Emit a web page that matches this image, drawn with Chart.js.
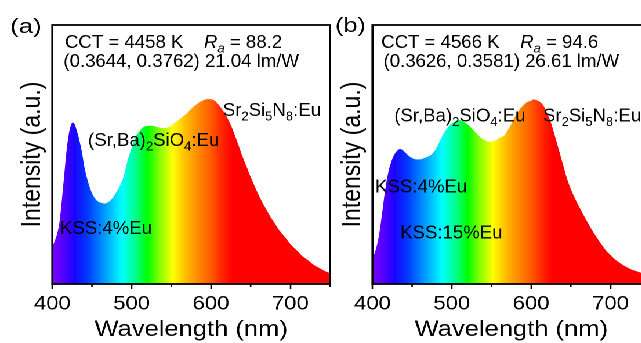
<!DOCTYPE html>
<html><head><meta charset="utf-8">
<script src="https://cdn.jsdelivr.net/npm/chart.js@4.4.0/dist/chart.umd.min.js"></script>
<style>
html,body{margin:0;padding:0;background:#fff;overflow:hidden;width:641px;height:343px;}
#wrap{position:absolute;left:0;top:0;width:600px;height:343px;transform:scaleX(1.16);transform-origin:0 0;}
canvas{position:absolute;top:0;}
#ca{left:0px}
#cb{left:275.9px}
</style></head><body>
<div id="wrap"><canvas id="ca" width="300" height="343"></canvas><canvas id="cb" width="300" height="343"></canvas></div>
<script>
// ---------- data ----------
const wavelengthA = [400,403,406,409,412,415,418,421,424,426,428,431,434,437,441,445,450,455,460,466,471,476,480,485,490,495,500,505,510,515,520,525,530,535,540,545,550,555,560,565,570,575,580,585,590,595,598,601,605,610,615,620,625,630,635,640,645,650,655,660,665,670,675,680,685,690,695,700,705,710,715,720,725,730,735,740,745,750];
const intensityA  = [0.143,0.166,0.193,0.239,0.324,0.421,0.517,0.583,0.618,0.623,0.618,0.591,0.556,0.514,0.444,0.395,0.351,0.326,0.315,0.311,0.317,0.332,0.351,0.378,0.417,0.479,0.525,0.568,0.591,0.606,0.610,0.611,0.608,0.604,0.602,0.604,0.612,0.624,0.635,0.647,0.660,0.676,0.689,0.701,0.709,0.714,0.714,0.713,0.707,0.691,0.670,0.645,0.614,0.575,0.533,0.490,0.452,0.413,0.378,0.344,0.313,0.286,0.259,0.236,0.212,0.193,0.174,0.154,0.139,0.124,0.108,0.097,0.085,0.073,0.064,0.056,0.048,0.042];

const wavelengthB = [400,404,408,412,416,420,424,428,432,435,438,442,446,450,455,460,465,470,475,480,485,490,495,500,505,508,512,516,520,525,530,535,540,545,549,553,557,561,566,570,575,580,585,590,595,600,603,606,610,615,620,625,630,635,640,645,650,655,660,665,670,675,680,685,690,695,700,705,710,715,720,725,730,735,740,745,750];
const intensityB  = [0.099,0.131,0.185,0.270,0.363,0.432,0.475,0.502,0.517,0.521,0.517,0.506,0.494,0.486,0.481,0.481,0.486,0.492,0.502,0.521,0.552,0.583,0.604,0.620,0.629,0.633,0.631,0.625,0.616,0.602,0.585,0.569,0.558,0.551,0.549,0.552,0.558,0.566,0.573,0.591,0.618,0.647,0.672,0.689,0.702,0.708,0.713,0.711,0.705,0.691,0.660,0.622,0.571,0.517,0.463,0.409,0.367,0.332,0.301,0.272,0.244,0.217,0.192,0.169,0.147,0.127,0.112,0.097,0.085,0.075,0.066,0.058,0.052,0.047,0.043,0.041,0.039];

const majorTicks = [400,500,600,700];
const minorTicks = [450,550,650,750];
const xTitle = 'Wavelength (nm)';
const yTitle = 'Intensity (a.u.)';

// spectral fill colours (style)
const spectrumStops  = [400,415,428,445,465,488,505,520,535,552,565,580,597,612,627,750];
const spectrumColors = ['rgb(125,0,255)','rgb(80,0,255)','rgb(25,5,255)','rgb(0,60,255)','rgb(0,150,255)','rgb(0,255,255)','rgb(0,255,140)','rgb(0,255,0)','rgb(130,255,0)','rgb(255,255,0)','rgb(255,200,0)','rgb(255,150,0)','rgb(255,100,0)','rgb(255,45,0)','rgb(255,0,0)','rgb(255,0,0)'];

// text annotations
const notesA = [
  {x:416.0, y:0.911, segs:[{t:'CCT = 4458 K    '},{t:'R',it:1},{t:'a',it:1,sub:1},{t:' = 88.2'}]},
  {x:413.9, y:0.838, segs:[{t:'(0.3644, 0.3762) 21.04 lm/W'}]},
  {x:445.0, y:0.533, segs:[{t:'(Sr,Ba)'},{t:'2',sub:1},{t:'SiO'},{t:'4',sub:1},{t:':Eu'}]},
  {x:614.9, y:0.649, segs:[{t:'Sr'},{t:'2',sub:1},{t:'Si'},{t:'5',sub:1},{t:'N'},{t:'8',sub:1},{t:':Eu'}]},
  {x:409.7, y:0.193, segs:[{t:'KSS:4%Eu'}]}
];
const notesB = [
  {x:411.0, y:0.911, segs:[{t:'CCT = 4566 K    '},{t:'R',it:1},{t:'a',it:1,sub:1},{t:' = 94.6'}]},
  {x:413.9, y:0.838, segs:[{t:'(0.3626, 0.3581) 26.61 lm/W'}]},
  {x:427.4, y:0.627, segs:[{t:'(Sr,Ba)'},{t:'2',sub:1},{t:'SiO'},{t:'4',sub:1},{t:':Eu'}]},
  {x:614.9, y:0.627, segs:[{t:'Sr'},{t:'2',sub:1},{t:'Si'},{t:'5',sub:1},{t:'N'},{t:'8',sub:1},{t:':Eu'}]},
  {x:403.4, y:0.353, segs:[{t:'KSS:4%Eu'}]},
  {x:434.9, y:0.176, segs:[{t:'KSS:15%Eu'}]}
];

// ---------- drawing ----------
const S = 1.16;
const FONT = "'Liberation Sans', Arial, sans-serif";
const NOTE_SIZE = 18.6;

function drawRich(ctx, x, y, segs, size, hx) {
  ctx.save();
  ctx.translate(x, y);
  ctx.scale(hx / S, 1);
  ctx.fillStyle = '#000';
  ctx.textBaseline = 'alphabetic';
  ctx.textAlign = 'left';
  let cx = 0;
  for (const s of segs) {
    const fs = s.sub ? size * 0.7 : size;
    ctx.font = (s.it ? 'italic ' : '') + fs + 'px ' + FONT;
    ctx.fillText(s.t, cx, s.sub ? size * 0.24 : 0);
    cx += ctx.measureText(s.t).width;
  }
  ctx.restore();
}

function makeChart(id, wl, inten, notes, letter) {
  const frame = {
    id: 'frame',
    afterDraw(chart) {
      const {ctx, chartArea: a, scales} = chart;
      ctx.save();
      ctx.strokeStyle = '#000';
      ctx.lineWidth = 1.3;
      ctx.beginPath();
      for (const v of minorTicks) {
        const px = scales.x.getPixelForValue(v);
        ctx.moveTo(px, a.bottom); ctx.lineTo(px, a.bottom + 3);
      }
      ctx.stroke();
      ctx.lineWidth = 1.8;
      ctx.strokeRect(a.left, a.top, a.right - a.left, a.bottom - a.top);
      ctx.restore();
      for (const n of notes) {
        drawRich(ctx, scales.x.getPixelForValue(n.x), scales.y.getPixelForValue(n.y), n.segs, NOTE_SIZE, 1);
      }
      drawRich(ctx, letter.px, letter.py, [{t:letter.t}], 20, letter.hx);
    }
  };
  return new Chart(document.getElementById(id), {
    type: 'line',
    data: {
      datasets: [{
        data: wl.map((w, i) => ({x: w, y: inten[i]})),
        fill: 'origin',
        borderWidth: 0,
        pointRadius: 0,
        cubicInterpolationMode: 'monotone',
        backgroundColor: (c) => {
          const ch = c.chart;
          if (!ch.chartArea) return 'red';
          const xs = ch.scales.x;
          const p0 = xs.getPixelForValue(400), p1 = xs.getPixelForValue(750);
          const g = ch.ctx.createLinearGradient(p0, 0, p1, 0);
          spectrumStops.forEach((w, i) => g.addColorStop((w - 400) / 350, spectrumColors[i]));
          return g;
        }
      }]
    },
    options: {
      responsive: false,
      animation: false,
      devicePixelRatio: 2,
      layout: {padding: {left: 0, right: 15.5, top: 25, bottom: 0}},
      plugins: {legend: {display: false}, tooltip: {enabled: false}},
      scales: {
        x: {
          type: 'linear', min: 400, max: 750,
          afterBuildTicks: (ax) => { ax.ticks = majorTicks.map(v => ({value: v})); },
          afterFit: (s) => { s.height = 59; },
          ticks: {autoSkip: false, maxRotation: 0, padding: 4, color: '#000', font: {family: FONT, size: 19}},
          grid: {display: true, drawOnChartArea: false, drawTicks: true, tickLength: 5, tickColor: '#000', tickWidth: 1.3},
          border: {display: false},
          title: {display: true, text: xTitle, color: '#000', font: {family: FONT, size: 22}, padding: {top: 0, bottom: 0}}
        },
        y: {
          min: 0, max: 1,
          afterFit: (s) => { s.width = 45.1; },
          ticks: {display: false},
          grid: {display: false, drawTicks: false},
          border: {display: false},
          title: {display: true, text: yTitle, color: '#000', font: {family: FONT, size: 23}, padding: {top: 14.2, bottom: 0}}
        }
      }
    },
    plugins: [frame]
  });
}

makeChart('ca', wavelengthA, intensityA, notesA, {t:'(a)', px: 8.6, py: 33, hx: 1.3});
makeChart('cb', wavelengthB, intensityB, notesB, {t:'(b)', px: 12.9, py: 32, hx: 1.25});
</script>
</body></html>
